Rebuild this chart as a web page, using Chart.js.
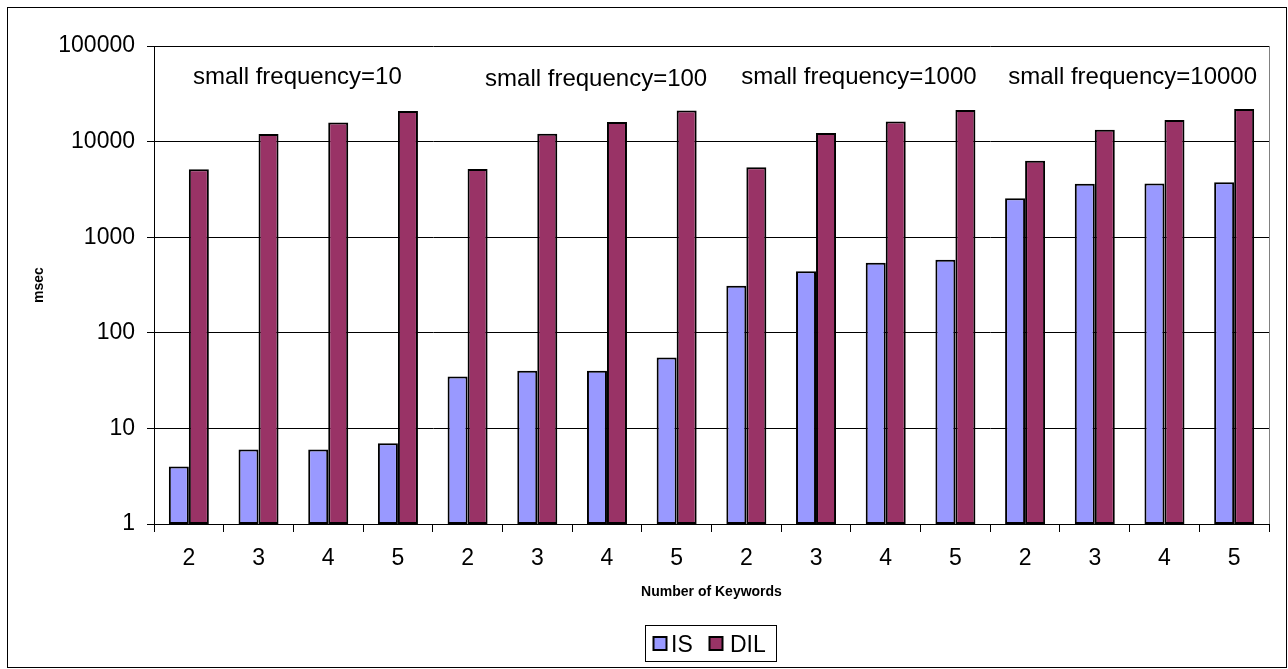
<!DOCTYPE html>
<html>
<head>
<meta charset="utf-8">
<script src="https://cdn.jsdelivr.net/npm/chart.js@4/dist/chart.umd.min.js"></script>
<style>
  html, body { margin: 0; padding: 0; background: #ffffff; }
  #wrap { width: 1288px; height: 669px; position: relative; }
  canvas { display: block; }
</style>
</head>
<body>
<div id="wrap"><canvas id="chart" width="1288" height="669"></canvas></div>
<script>
// Number of keywords per query, repeated for each "small frequency" group
const categories = ['2', '3', '4', '5', '2', '3', '4', '5', '2', '3', '4', '5', '2', '3', '4', '5'];

// Query time in milliseconds
const isValues  = [4, 6, 6, 7, 35, 40, 40, 55, 310, 440, 540, 580, 2550, 3630, 3640, 3750];
const dilValues = [5150, 12000, 15800, 20900, 5170, 12100, 16000, 21100, 5390, 12300, 16200, 21400, 6300, 13300, 16800, 21900];

const seriesNames = ['IS', 'DIL'];
const seriesColors = ['#9999FF', '#993366'];

const groupLabels = ['small frequency=10', 'small frequency=100', 'small frequency=1000', 'small frequency=10000'];
const yTickValues = [1, 10, 100, 1000, 10000, 100000];

const FONT = '"Liberation Sans", Arial, Helvetica, sans-serif';

// Frame, plot border, group captions, axis titles and the boxed legend
const decorations = {
  id: 'decorations',
  afterDraw(chart) {
    const ctx = chart.ctx;
    const area = chart.chartArea;
    const x = chart.scales.x;
    ctx.save();

    // outer frame
    ctx.strokeStyle = '#000';
    ctx.lineWidth = 1;
    ctx.strokeRect(7.5, 7.5, 1279, 660);

    // right edge of the plot area
    ctx.strokeStyle = '#808080';
    ctx.beginPath();
    ctx.moveTo(Math.round(area.right) + 0.5, area.top);
    ctx.lineTo(Math.round(area.right) + 0.5, area.bottom);
    ctx.stroke();

    // captions above each group of four categories
    const shifts = [4, 24, 8, 3];
    const baselines = [84, 86, 84, 84];
    ctx.fillStyle = '#000';
    ctx.font = '24px ' + FONT;
    ctx.textAlign = 'center';
    ctx.textBaseline = 'alphabetic';
    groupLabels.forEach((txt, g) => {
      const cx = (x.getPixelForValue(g * 4 + 1) + x.getPixelForValue(g * 4 + 2)) / 2 + shifts[g];
      ctx.fillText(txt, cx, baselines[g]);
    });

    // axis titles
    ctx.font = 'bold 14px ' + FONT;
    ctx.textBaseline = 'middle';
    ctx.fillText('Number of Keywords', (area.left + area.right) / 2, 592);
    ctx.save();
    ctx.translate(39, (area.top + area.bottom) / 2);
    ctx.rotate(-Math.PI / 2);
    ctx.fillText('msec', 0, 0);
    ctx.restore();

    // legend
    ctx.strokeStyle = '#000';
    ctx.lineWidth = 1;
    ctx.strokeRect(645.5, 625.5, 131, 36);
    const items = [
      { sq: 653.5, tx: 671 },
      { sq: 709.5, tx: 730 }
    ];
    ctx.font = '23px ' + FONT;
    ctx.textAlign = 'left';
    ctx.textBaseline = 'alphabetic';
    chart.data.datasets.forEach((ds, i) => {
      const it = items[i];
      ctx.fillStyle = ds.backgroundColor;
      ctx.fillRect(it.sq, 637, 13, 13);
      ctx.lineWidth = 2;
      ctx.strokeStyle = '#000';
      ctx.strokeRect(it.sq, 637, 13, 13);
      ctx.fillStyle = '#000';
      ctx.fillText(ds.label, it.tx, 652);
    });

    ctx.restore();
  }
};

new Chart(document.getElementById('chart'), {
  type: 'bar',
  data: {
    labels: categories,
    datasets: [
      {
        label: seriesNames[0],
        data: isValues,
        backgroundColor: seriesColors[0],
        borderColor: '#000',
        borderWidth: 2,
        borderSkipped: false
      },
      {
        label: seriesNames[1],
        data: dilValues,
        backgroundColor: seriesColors[1],
        borderColor: '#000',
        borderWidth: 2,
        borderSkipped: false
      }
    ]
  },
  options: {
    responsive: false,
    animation: false,
    devicePixelRatio: 1,
    layout: { padding: { left: 0, top: 46, right: 19, bottom: 0 } },
    datasets: {
      bar: { categoryPercentage: 0.574, barPercentage: 1.0 }
    },
    plugins: {
      legend: { display: false },
      tooltip: { enabled: false }
    },
    scales: {
      x: {
        offset: true,
        grid: {
          offset: true,
          drawOnChartArea: false,
          drawTicks: true,
          tickLength: 8,
          tickColor: '#000',
          color: '#000'
        },
        border: { color: '#000', width: 1 },
        ticks: {
          color: '#000',
          font: { family: FONT, size: 23 },
          padding: 13,
          maxRotation: 0,
          autoSkip: false
        },
        afterFit(scale) { scale.height = 145; }
      },
      y: {
        type: 'logarithmic',
        min: 1,
        max: 100000,
        afterBuildTicks(scale) {
          scale.ticks = yTickValues.map(v => ({ value: v }));
        },
        grid: {
          color: '#000',
          lineWidth: 1,
          drawTicks: true,
          tickLength: 7,
          tickColor: '#000'
        },
        border: { color: '#000', width: 1 },
        ticks: {
          color: '#000',
          font: { family: FONT, size: 23 },
          padding: 12,
          callback: v => String(v)
        },
        afterFit(scale) { scale.width = 154; }
      }
    }
  },
  plugins: [decorations]
});
</script>
</body>
</html>
